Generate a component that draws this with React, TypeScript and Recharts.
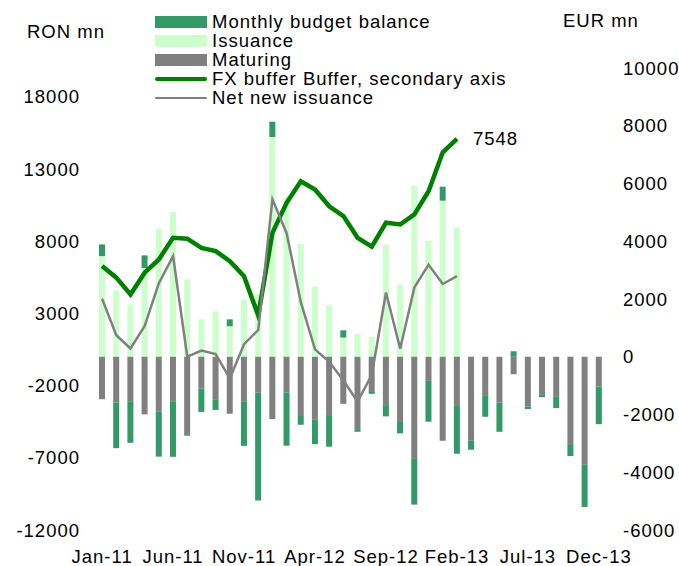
import { ComposedChart, Bar, Line, XAxis, YAxis, LabelList } from "recharts";

const months = [
  "Jan-11", "Feb-11", "Mar-11", "Apr-11", "May-11", "Jun-11", "Jul-11", "Aug-11", "Sep-11", "Oct-11", "Nov-11", "Dec-11",
  "Jan-12", "Feb-12", "Mar-12", "Apr-12", "May-12", "Jun-12", "Jul-12", "Aug-12", "Sep-12", "Oct-12", "Nov-12", "Dec-12",
  "Jan-13", "Feb-13", "Mar-13", "Apr-13", "May-13", "Jun-13", "Jul-13", "Aug-13", "Sep-13", "Oct-13", "Nov-13", "Dec-13",
];

// RON mn, left axis
const issuance = [
  6970, 4600, 3630, 6140, 8880, 10050, 5360, 2590, 3140, 2110, 3970, 4320,
  15220, 11020, 7840, 4870, 3560, 1330, 1560, 1400, 7770, 5010, 11850, 8050,
  10810, 8950,
];
const maturing = [
  -2940, -3170, -3080, -3990, -3810, -3080, -5360, -2200, -2940, -3950, -3080, -2470,
  -4320, -2470, -4040, -4370, -4040, -3260, -5010, -2380, -3350, -4460, -7080, -1670,
  -5820, -3350, -5820, -2660, -3170, -1210, -3440, -2640, -2730, -6050, -7480, -2060,
];
const budgetBalance = [
  810, -3160, -2880, 880, -3110, -3850, -110, -1620, -740, 480, -3090, -7490,
  1060, -3690, -670, -1680, -2190, 500, -190, -190, -780, -850, -3160, -2830,
  970, -3370, -620, -1500, -2030, 380, -190, -160, -830, -830, -2920, -2610,
];
const netIssuance = [
  4020, 1490, 570, 2130, 5100, 6970, 0, 430, 190, -1500, 870, 1850,
  10900, 8560, 3780, 510, -350, -1650, -3100, -1250, 4450, 560, 4800, 6380,
  5040, 5590,
];

// EUR mn, right axis
const fxBuffer = [
  3140, 2740, 2160, 2910, 3370, 4120, 4090, 3770, 3660, 3310, 2790, 1430,
  4290, 5330, 6080, 5790, 5210, 4870, 4120, 3810, 4640, 4580, 4930, 5730,
  7080, 7548,
];

const leftTicks = [-12000, -7000, -2000, 3000, 8000, 13000, 18000];
const rightTicks = [-6000, -4000, -2000, 0, 2000, 4000, 6000, 8000, 10000];

const data = months.map((month, i) => ({
  month,
  issuance: issuance[i] ?? 0,
  maturing: maturing[i],
  balance: budgetBalance[i],
  net: netIssuance[i] ?? null,
  fx: fxBuffer[i] ?? null,
}));

const lastFx = fxBuffer[fxBuffer.length - 1];

const tickStyle = { fontSize: 18.5, fill: "#000" };

const FxLabel = (props: any) => {
  const { x, y, value } = props;
  if (value !== lastFx) return null;
  return (
    <text x={x + 16} y={y} dy="0.355em" fontSize={18.5} fill="#000">
      {value}
    </text>
  );
};

const legendItems = [
  { label: "Monthly budget balance", kind: "box", color: "#339966" },
  { label: "Issuance", kind: "box", color: "#CCFFCC" },
  { label: "Maturing", kind: "box", color: "#808080" },
  { label: "FX buffer Buffer, secondary axis", kind: "line", color: "#008000", width: 4 },
  { label: "Net new issuance", kind: "line", color: "#808080", width: 2 },
];

export default function App() {
  return (
    <div
      style={{
        position: "absolute",
        left: 0,
        top: 0,
        width: 679,
        height: 566,
        background: "#fff",
        fontFamily: "'Liberation Sans', Arial, sans-serif",
        letterSpacing: "1px",
      }}
    >
      <ComposedChart
        width={679}
        height={566}
        data={data}
        stackOffset="sign"
        margin={{ top: 68, right: 0, bottom: 0, left: 0 }}
      >
        <XAxis
          dataKey="month"
          interval={4}
          axisLine={false}
          tickLine={false}
          height={36}
          tickMargin={14}
          tick={tickStyle}
        />
        <YAxis
          yAxisId="left"
          width={95}
          domain={[-12000, 20000]}
          ticks={leftTicks}
          axisLine={false}
          tickLine={false}
          tickMargin={9}
          tick={tickStyle}
        />
        <YAxis
          yAxisId="right"
          orientation="right"
          width={73}
          domain={[-6000, 10000]}
          ticks={rightTicks}
          axisLine={false}
          tickLine={false}
          tickMargin={11}
          tick={{ ...tickStyle, textAnchor: "start" }}
        />
        <Bar yAxisId="left" dataKey="issuance" stackId="a" fill="#CCFFCC" barSize={6} isAnimationActive={false} />
        <Bar yAxisId="left" dataKey="maturing" stackId="a" fill="#808080" barSize={6} isAnimationActive={false} />
        <Bar yAxisId="left" dataKey="balance" stackId="a" fill="#339966" barSize={6} isAnimationActive={false} />
        <Line
          yAxisId="right"
          dataKey="fx"
          stroke="#008000"
          strokeWidth={4.5}
          dot={false}
          activeDot={false}
          isAnimationActive={false}
        >
          <LabelList dataKey="fx" content={FxLabel} />
        </Line>
        <Line
          yAxisId="left"
          dataKey="net"
          stroke="#808080"
          strokeWidth={2.5}
          dot={false}
          activeDot={false}
          isAnimationActive={false}
        />
      </ComposedChart>

      <div style={{ position: "absolute", left: 27, top: 22, fontSize: 18.5, lineHeight: "19px" }}>RON mn</div>
      <div style={{ position: "absolute", left: 563, top: 11, fontSize: 18.5, lineHeight: "19px" }}>EUR mn</div>

      <div style={{ position: "absolute", left: 155, top: 12 }}>
        {legendItems.map((item) => (
          <div key={item.label} style={{ display: "flex", alignItems: "center", height: 19 }}>
            <div style={{ width: 52, height: 12, display: "flex", alignItems: "center" }}>
              {item.kind === "box" ? (
                <div style={{ width: 52, height: 12, background: item.color }} />
              ) : (
                <div
                  style={{
                    width: 52,
                    height: item.width,
                    background: item.color,
                    borderRadius: item.width,
                  }}
                />
              )}
            </div>
            <span style={{ marginLeft: 5, fontSize: 18.5, lineHeight: "19px", whiteSpace: "nowrap" }}>
              {item.label}
            </span>
          </div>
        ))}
      </div>
    </div>
  );
}
